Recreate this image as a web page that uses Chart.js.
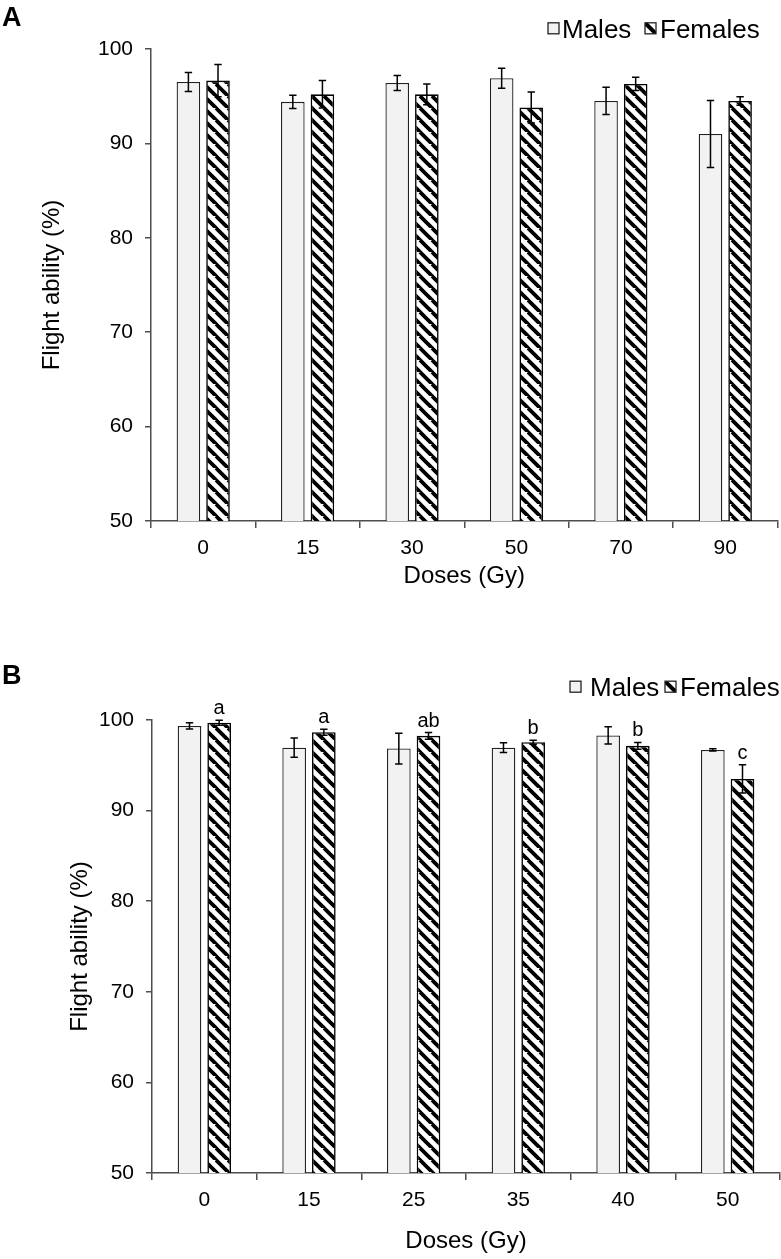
<!DOCTYPE html>
<html><head><meta charset="utf-8">
<script src="https://cdn.jsdelivr.net/npm/chart.js@4.4.1/dist/chart.umd.min.js"></script>
<style>
html,body{margin:0;padding:0;background:#fff;}
body{width:781px;height:1259px;position:relative;overflow:hidden;}
.wrap{position:absolute;left:0;width:781px;}
#wa{top:0;height:600px;}
#wb{top:620px;height:639px;}
canvas{display:block;}
</style></head><body>
<div class="wrap" id="wa"><canvas id="ca" width="781" height="600"></canvas></div>
<div class="wrap" id="wb"><canvas id="cb" width="781" height="639"></canvas></div>
<script>
// ---------- data ----------
const dosesA = ['0', '15', '30', '50', '70', '90'];
const malesA = [96.5, 94.4, 96.4, 96.9, 94.5, 91.0];
const malesErrA = [1.0, 0.7, 0.8, 1.05, 1.45, 3.55];
const femalesA = [96.65, 95.2, 95.2, 93.8, 96.3, 94.5];
const femalesErrA = [1.7, 1.45, 1.1, 1.65, 0.7, 0.45];

const dosesB = ['0', '15', '25', '35', '40', '50'];
const malesB = [99.35, 96.95, 96.85, 96.95, 98.3, 96.7];
const malesErrB = [0.35, 1.05, 1.7, 0.55, 0.95, 0.12];
const femalesB = [99.7, 98.65, 98.25, 97.55, 97.15, 93.5];
const femalesErrB = [0.28, 0.33, 0.37, 0.22, 0.37, 1.55];
const lettersB = ['a', 'a', 'ab', 'b', 'b', 'c'];

const yTicks = [50, 60, 70, 80, 90, 100];
const seriesNames = ['Males', 'Females'];

// ---------- style ----------
const FONT = "'Liberation Sans', Arial, Helvetica, sans-serif";
const AX = '#4d4d4d';

function hatch() {
  const s = 12;
  const c = document.createElement('canvas');
  c.width = s; c.height = s;
  const g = c.getContext('2d');
  g.fillStyle = '#fff'; g.fillRect(0, 0, s, s);
  g.strokeStyle = '#000'; g.lineWidth = 3.8;
  g.beginPath();
  g.moveTo(-s, 0); g.lineTo(s, 2 * s);
  g.moveTo(0, 0); g.lineTo(s, s);
  g.moveTo(s, 0); g.lineTo(2 * s, s);
  g.stroke();
  return g.createPattern(c, 'repeat');
}

const overlay = {
  id: 'overlay',
  afterDatasetsDraw(chart, args, opts) {
    const ctx = chart.ctx, y = chart.scales.y;
    chart.data.datasets.forEach((ds, i) => {
      const meta = chart.getDatasetMeta(i);
      meta.data.forEach((bar, j) => {
        const v = ds.data[j], e = ds.errors[j];
        const yt = y.getPixelForValue(v + e), yb = y.getPixelForValue(v - e);
        const cap = 3.7;
        ctx.save();
        ctx.strokeStyle = '#000'; ctx.lineWidth = 1.5;
        ctx.beginPath();
        ctx.moveTo(bar.x, yt); ctx.lineTo(bar.x, yb);
        ctx.moveTo(bar.x - cap, yt); ctx.lineTo(bar.x + cap, yt);
        ctx.moveTo(bar.x - cap, yb); ctx.lineTo(bar.x + cap, yb);
        ctx.stroke();
        if (ds.letters) {
          ctx.fillStyle = '#000';
          ctx.font = '20px ' + FONT;
          ctx.textAlign = 'center';
          ctx.textBaseline = 'alphabetic';
          ctx.fillText(ds.letters[j], bar.x, yt - 6);
        }
        ctx.restore();
      });
    });
  },
  afterDraw(chart, args, opts) {
    const ctx = chart.ctx;
    ctx.save();
    ctx.fillStyle = '#000';
    ctx.font = 'bold 27px ' + FONT;
    ctx.textAlign = 'left'; ctx.textBaseline = 'alphabetic';
    ctx.fillText(opts.panel, 2, opts.panelBase);
    const L = opts.legend;
    chart.data.datasets.forEach((ds, i) => {
      const it = L.items[i];
      const bx = it.bx, by = L.y - 5.5, bs = 11;
      ctx.save();
      ctx.beginPath(); ctx.rect(bx, by, bs, bs); ctx.clip();
      if (i === 0) {
        ctx.fillStyle = ds.backgroundColor; ctx.fillRect(bx, by, bs, bs);
      } else {
        ctx.fillStyle = '#fff'; ctx.fillRect(bx, by, bs, bs);
        ctx.strokeStyle = '#000'; ctx.lineWidth = 4;
        ctx.beginPath(); ctx.moveTo(bx - 2, by - 2); ctx.lineTo(bx + bs + 2, by + bs + 2); ctx.stroke();
      }
      ctx.restore();
      ctx.strokeStyle = '#222'; ctx.lineWidth = 1.3;
      ctx.strokeRect(bx, by, bs, bs);
      ctx.fillStyle = '#000';
      ctx.font = '26px ' + FONT;
      ctx.textAlign = 'left'; ctx.textBaseline = 'alphabetic';
      ctx.fillText(ds.label, it.tx, L.y + 9.3);
    });
    ctx.restore();
  }
};

function makeChart(id, cats, m, me, f, fe, letters, L) {
  return new Chart(document.getElementById(id), {
    type: 'bar',
    data: {
      labels: cats,
      datasets: [
        { label: seriesNames[0], data: m, errors: me, backgroundColor: '#f2f2f2', borderColor: '#222',
          borderWidth: 1.3, borderSkipped: false, categoryPercentage: 0.567, barPercentage: 0.797 },
        { label: seriesNames[1], data: f, errors: fe, letters: letters, backgroundColor: hatch(), borderColor: '#000',
          borderWidth: 1.6, borderSkipped: false, categoryPercentage: 0.567, barPercentage: 0.797 }
      ]
    },
    options: {
      responsive: false, animation: false, events: [],
      layout: { padding: { top: L.top, right: L.right, bottom: 0, left: 0 } },
      plugins: {
        legend: { display: false }, tooltip: { enabled: false },
        overlay: { panel: L.panel, panelBase: L.panelBase, legend: L.legend }
      },
      scales: {
        x: {
          grid: { offset: true, drawOnChartArea: false, drawTicks: true, tickLength: 7, color: AX, lineWidth: 1.5 },
          border: { display: true, color: AX, width: 1.5 },
          ticks: { color: '#000', font: { family: FONT, size: 21 }, padding: 8, maxRotation: 0, autoSkip: false },
          title: { display: true, text: 'Doses (Gy)', color: '#000', font: { family: FONT, size: 24 },
                   padding: { top: 0, bottom: L.xtPad } },
          afterFit(s) { s.height = L.xh; }
        },
        y: {
          min: 50, max: 100,
          afterBuildTicks(s) { s.ticks = yTicks.map(v => ({ value: v })); },
          ticks: { color: '#000', font: { family: FONT, size: 21 }, padding: 12 },
          grid: { drawOnChartArea: false, drawTicks: true, tickLength: 6, color: AX, lineWidth: 1.5 },
          border: { display: true, color: AX, width: 1.5 },
          title: { display: true, text: 'Flight ability (%)', color: '#000', font: { family: FONT, size: 24 },
                   padding: { top: L.ytPad, bottom: 0 } },
          afterFit(s) { s.width = L.yw; }
        }
      }
    },
    plugins: [overlay]
  });
}

makeChart('ca', dosesA, malesA, malesErrA, femalesA, femalesErrA, null, {
  top: 49, right: 3.5, xh: 79, xtPad: 9.6, yw: 151, ytPad: 37.6,
  panel: 'A', panelBase: 25.5,
  legend: { y: 28.3, items: [{ bx: 548, tx: 562 }, { bx: 645, tx: 660 }] }
});
makeChart('cb', dosesB, malesB, malesErrB, femalesB, femalesErrB, lettersB, {
  top: 100, right: 1, xh: 86, xtPad: 3.6, yw: 152, ytPad: 65.6,
  panel: 'B', panelBase: 63.5,
  legend: { y: 66.7, items: [{ bx: 570, tx: 590 }, { bx: 665, tx: 680 }] }
});
</script></body></html>
